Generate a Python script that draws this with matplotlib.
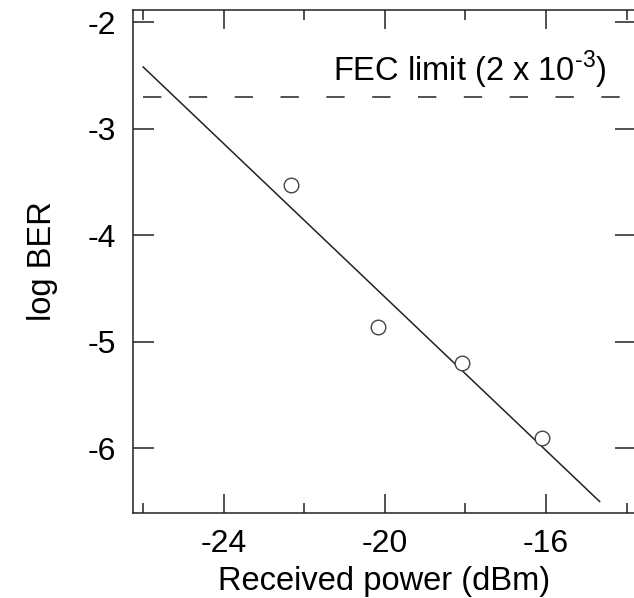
import matplotlib
matplotlib.use('Agg')
import matplotlib.pyplot as plt
from matplotlib.ticker import MultipleLocator

plt.rcParams['font.family'] = ['Liberation Sans', 'DejaVu Sans']
plt.rcParams['axes.unicode_minus'] = False
plt.rcParams['mathtext.fontset'] = 'custom'
plt.rcParams['mathtext.rm'] = 'Liberation Sans'

# measured points
power_dbm = [-22.32, -20.17, -18.08, -16.11]
log_ber = [-3.53, -4.86, -5.20, -5.90]

# linear fit line, end points
fit_x = [-26.0, -14.67]
fit_y = [-2.42, -6.50]

fec_limit = -2.699  # log10(2e-3)

x_major = [-24, -20, -16]
y_major = [-2, -3, -4, -5, -6]

fig = plt.figure(figsize=(6.34, 5.98), dpi=100)
ax = fig.add_axes([0.2093, 0.1426, 0.7937, 0.8407])

ax.plot(fit_x, fit_y, color='#222222', linewidth=1.1)
ax.plot(power_dbm, log_ber, linestyle='none', marker='o', markersize=10.5,
        markerfacecolor='white', markeredgecolor='#444444', markeredgewidth=1.0)
ax.plot([-26, -13.77], [fec_limit, fec_limit], color='#222222', linewidth=1.1,
        dashes=(12, 18))

ax.text(-14.49, -2.557, 'FEC limit (2 x 10$^{\\mathrm{\u2010 3}}$)', ha='right', va='baseline',
        fontsize=23.5)

ax.set_xlim(-26.26, -13.77)
ax.set_ylim(-6.605, -1.885)
ax.set_xticks(x_major)
ax.xaxis.set_minor_locator(MultipleLocator(4, offset=2))
ax.set_yticks(y_major)

ax.tick_params(which='major', direction='in', length=14, width=1.1, top=True, right=True,
               labelsize=23, color='#222222')
ax.tick_params(axis='y', which='major', length=15, pad=12)
ax.tick_params(axis='x', which='major', pad=12)
ax.tick_params(which='minor', direction='in', length=7, width=1.1, top=True, color='#222222')

for sp in ax.spines.values():
    sp.set_linewidth(1.1)
    sp.set_color('#222222')

ax.set_xlabel('Received power (dBm)', fontsize=23.5, labelpad=5)
ax.set_ylabel('log BER', fontsize=23.5, labelpad=21)

fig.savefig('out.png', dpi=100, facecolor='white')
